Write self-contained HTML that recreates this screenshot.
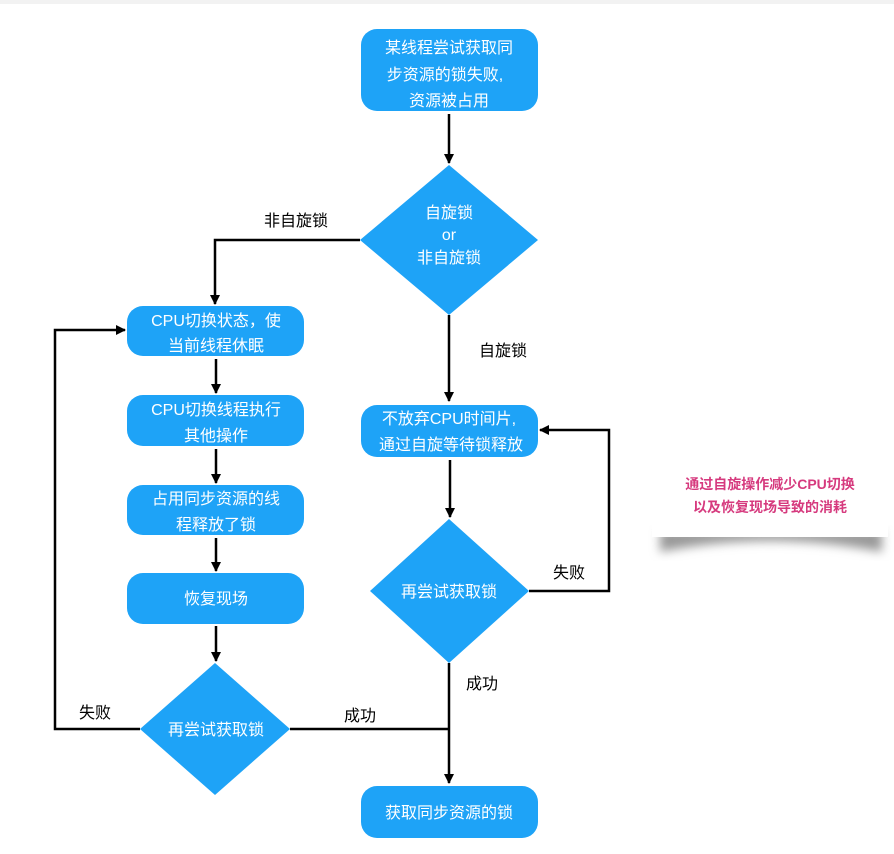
<!DOCTYPE html>
<html><head><meta charset="utf-8"><style>
html,body{margin:0;padding:0;background:#fff;}
svg text{font-family:"Liberation Sans","Noto Sans CJK SC",sans-serif;}
</style></head><body>
<svg width="894" height="849" viewBox="0 0 894 849" xmlns="http://www.w3.org/2000/svg">
<defs>
<marker id="a" markerWidth="10" markerHeight="10" refX="9" refY="5" orient="auto" markerUnits="userSpaceOnUse"><path d="M0,0 L10,5 L0,10 z" fill="#000"/></marker>
<filter id="sh" x="-10%" y="-20%" width="120%" height="160%"><feGaussianBlur stdDeviation="5"/></filter>
</defs>
<rect x="0" y="0" width="894" height="4" fill="#f2f2f2"/>
<g fill="#1ea3f7">
<rect x="361" y="29" width="177" height="82" rx="16"/>
<polygon points="449,165 538,240 449,315 360,240"/>
<rect x="127" y="306" width="177" height="50" rx="16"/>
<rect x="127" y="395" width="177" height="51" rx="16"/>
<rect x="127" y="485" width="177" height="50" rx="16"/>
<rect x="127" y="573" width="177" height="51" rx="16"/>
<polygon points="215,663 290,729 215,795 140,729"/>
<rect x="361" y="405" width="177" height="52" rx="16"/>
<polygon points="449,519 529,591 449,663 370,591"/>
<rect x="361" y="786" width="177" height="52" rx="16"/>
</g>
<g stroke="#000" stroke-width="2.5" fill="none">
<line x1="449" y1="114" x2="449" y2="163" marker-end="url(#a)"/>
<polyline points="360,240 215,240 215,304" marker-end="url(#a)"/>
<line x1="216" y1="359" x2="216" y2="393" marker-end="url(#a)"/>
<line x1="216" y1="449" x2="216" y2="483" marker-end="url(#a)"/>
<line x1="216" y1="538" x2="216" y2="571" marker-end="url(#a)"/>
<line x1="216" y1="626" x2="216" y2="661" marker-end="url(#a)"/>
<polyline points="140,729 55,729 55,330 125,330" marker-end="url(#a)"/>
<line x1="290" y1="729" x2="449" y2="729"/>
<line x1="449" y1="315" x2="449" y2="401" marker-end="url(#a)"/>
<line x1="450" y1="460" x2="450" y2="517" marker-end="url(#a)"/>
<polyline points="529,591 609,591 609,430 540,430" marker-end="url(#a)"/>
<line x1="449" y1="663" x2="449" y2="783" marker-end="url(#a)"/>
</g>
<g fill="#fff" font-size="16" text-anchor="middle">
<text x="449" y="53">某线程尝试获取同</text>
<text x="445" y="80">步资源的锁失败,</text>
<text x="449" y="106">资源被占用</text>
<text x="449" y="218">自旋锁</text>
<text x="449" y="240">or</text>
<text x="449" y="263">非自旋锁</text>
<text x="216" y="326">CPU切换状态，使</text>
<text x="216" y="351">当前线程休眠</text>
<text x="216" y="415">CPU切换线程执行</text>
<text x="216" y="441">其他操作</text>
<text x="216" y="504">占用同步资源的线</text>
<text x="216" y="530">程释放了锁</text>
<text x="216" y="604">恢复现场</text>
<text x="216" y="735">再尝试获取锁</text>
<text x="449" y="424">不放弃CPU时间片,</text>
<text x="451" y="450">通过自旋等待锁释放</text>
<text x="449" y="597">再尝试获取锁</text>
<text x="449" y="818">获取同步资源的锁</text>
</g>
<g fill="#000" font-size="16" text-anchor="middle">
<text x="296" y="226">非自旋锁</text>
<text x="503" y="356">自旋锁</text>
<text x="95" y="718">失败</text>
<text x="360" y="721">成功</text>
<text x="569" y="578">失败</text>
<text x="482" y="689">成功</text>
</g>
<path d="M660,530 L882,530 L882,552 Q770,530 660,552 z" fill="#999" filter="url(#sh)"/>
<rect x="652" y="455" width="236" height="82" fill="#fff"/>
<g fill="#d63a7e" font-size="14" font-weight="bold" text-anchor="middle">
<text x="770" y="489">通过自旋操作减少CPU切换</text>
<text x="770" y="512">以及恢复现场导致的消耗</text>
</g>
</svg>
</body></html>
